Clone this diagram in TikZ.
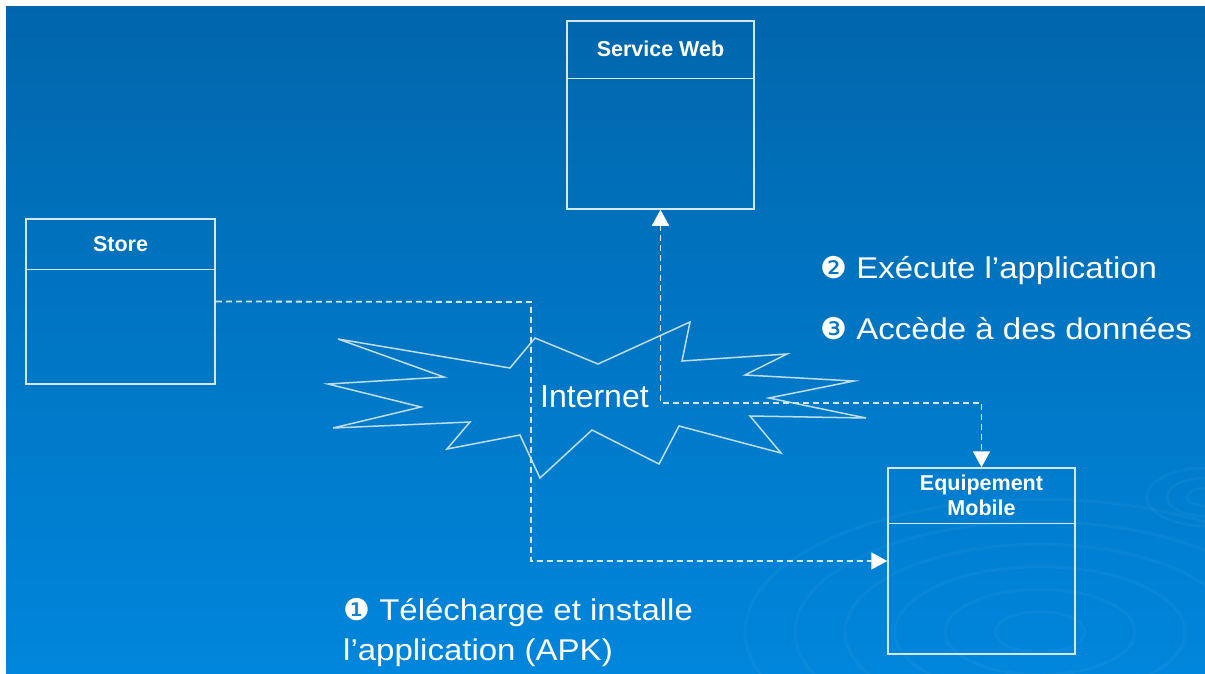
\documentclass[tikz,border=0pt]{standalone}
\usepackage{fontspec}
\setmainfont{Liberation Sans}
\newfontfamily\widesans[FakeStretch=1.1]{Liberation Sans}
\newfontfamily\dingfont{DejaVu Sans}
\usepackage[HTML]{xcolor}
\usepackage{tikz}
\usetikzlibrary{positioning, arrows, arrows.meta}

\definecolor{bgtop}{HTML}{0066AC}
\definecolor{bgbot}{HTML}{0086DC}
\definecolor{lineclr}{HTML}{D2E6F4}

\newcommand{\stepmark}[1]{{\dingfont #1}}

\begin{document}
\begin{tikzpicture}[x=1pt, y=-1pt,
    umlbox/.style={draw=lineclr, line width=1.5pt, inner sep=0pt},
    divider/.style={draw=lineclr, line width=1.5pt},
    boxtitle/.style={text=white, font=\fontsize{21.5}{25}\selectfont\bfseries, align=center},
    link/.style={draw=lineclr, line width=1.8pt, dash pattern=on 6pt off 4pt},
    tip/.style={-{Triangle[width=17pt, length=16pt, color=white]}},
    tips/.style={{Triangle[width=17pt, length=16pt, color=white]}-{Triangle[width=17pt, length=16pt, color=white]}},
    steptext/.style={text=white, font=\fontsize{30}{40}\selectfont\widesans, inner sep=0pt, align=left},
    burst/.style={draw=white, draw opacity=0.75, line width=1.5pt, line join=miter}]

% Background
\fill[white] (0,0) rectangle (1205,673);
\shade[top color=bgtop, bottom color=bgbot] (6,6) rectangle (1205,673);
\useasboundingbox (0,0) rectangle (1205,673);

% Faint ripples
\begin{scope}
    \clip (6,6) rectangle (1205,673);
    \foreach \r in {45,95,145,195,245,295}
        \draw[white, opacity=0.035, line width=3pt] (1040,632) ellipse ({\r} and {0.45*\r});
    \foreach \r in {18,38,58}
        \draw[white, opacity=0.04, line width=2.5pt] (1205,497) ellipse ({\r} and {0.5*\r});
\end{scope}

% Boxes
\node[umlbox, minimum width=187pt, minimum height=188pt] (web) at (660.5,115) {};
\node[umlbox, minimum width=189pt, minimum height=165pt] (store) at (120.5,301.5) {};
\node[umlbox, minimum width=187pt, minimum height=186pt] (eq) at (981.5,561) {};

\draw[divider] ([yshift=-58pt]web.north west) -- ([yshift=-58pt]web.north east);
\draw[divider] ([yshift=-51pt]store.north west) -- ([yshift=-51pt]store.north east);
\draw[divider] ([yshift=-56pt]eq.north west) -- ([yshift=-56pt]eq.north east);

\node[boxtitle] (webtitle) at ([yshift=-29pt]web.north) {Service Web};
\node[boxtitle] (storetitle) at ([yshift=-25.5pt]store.north) {Store};
\node[boxtitle] (eqtitle) at ([yshift=-28pt]eq.north) {Equipement\\Mobile};

% Internet cloud
\draw[burst] (338,339) -- (510,368) -- (535,338) -- (598,364) -- (690,322)
    -- (682,361) -- (787,354) -- (745,375) -- (854,381) -- (769,398)
    -- (866,418) -- (750,416) -- (781,453) -- (679,426) -- (659,464)
    -- (592,430) -- (540,478) -- (520,435) -- (447,449) -- (470,422)
    -- (333,428) -- (421,407) -- (328,384) -- (444,377) -- cycle;
\node[text=white, font=\fontsize{32}{38}\selectfont, inner sep=0pt, anchor=base west] (net) at (540,407) {Internet};

% Connectors
\coordinate (storebend) at (531,302);
\coordinate (webbend) at (660.5,403);
\draw[link, tip] (store.east) -- (storebend) |- (eq.west);
\draw[link, tips] (web.south) -- (webbend) -| (eq.north);

% Steps
\node[steptext, anchor=base west] (step1) at (343,660) {\stepmark{❶} Télécharge et installe\\l’application (APK)};
\node[steptext, anchor=base west] (step2) at (820,278) {\stepmark{❷} Exécute l’application};
\node[steptext, anchor=base west] (step3) at (820,339) {\stepmark{❸} Accède à des données};

\end{tikzpicture}
\end{document}
